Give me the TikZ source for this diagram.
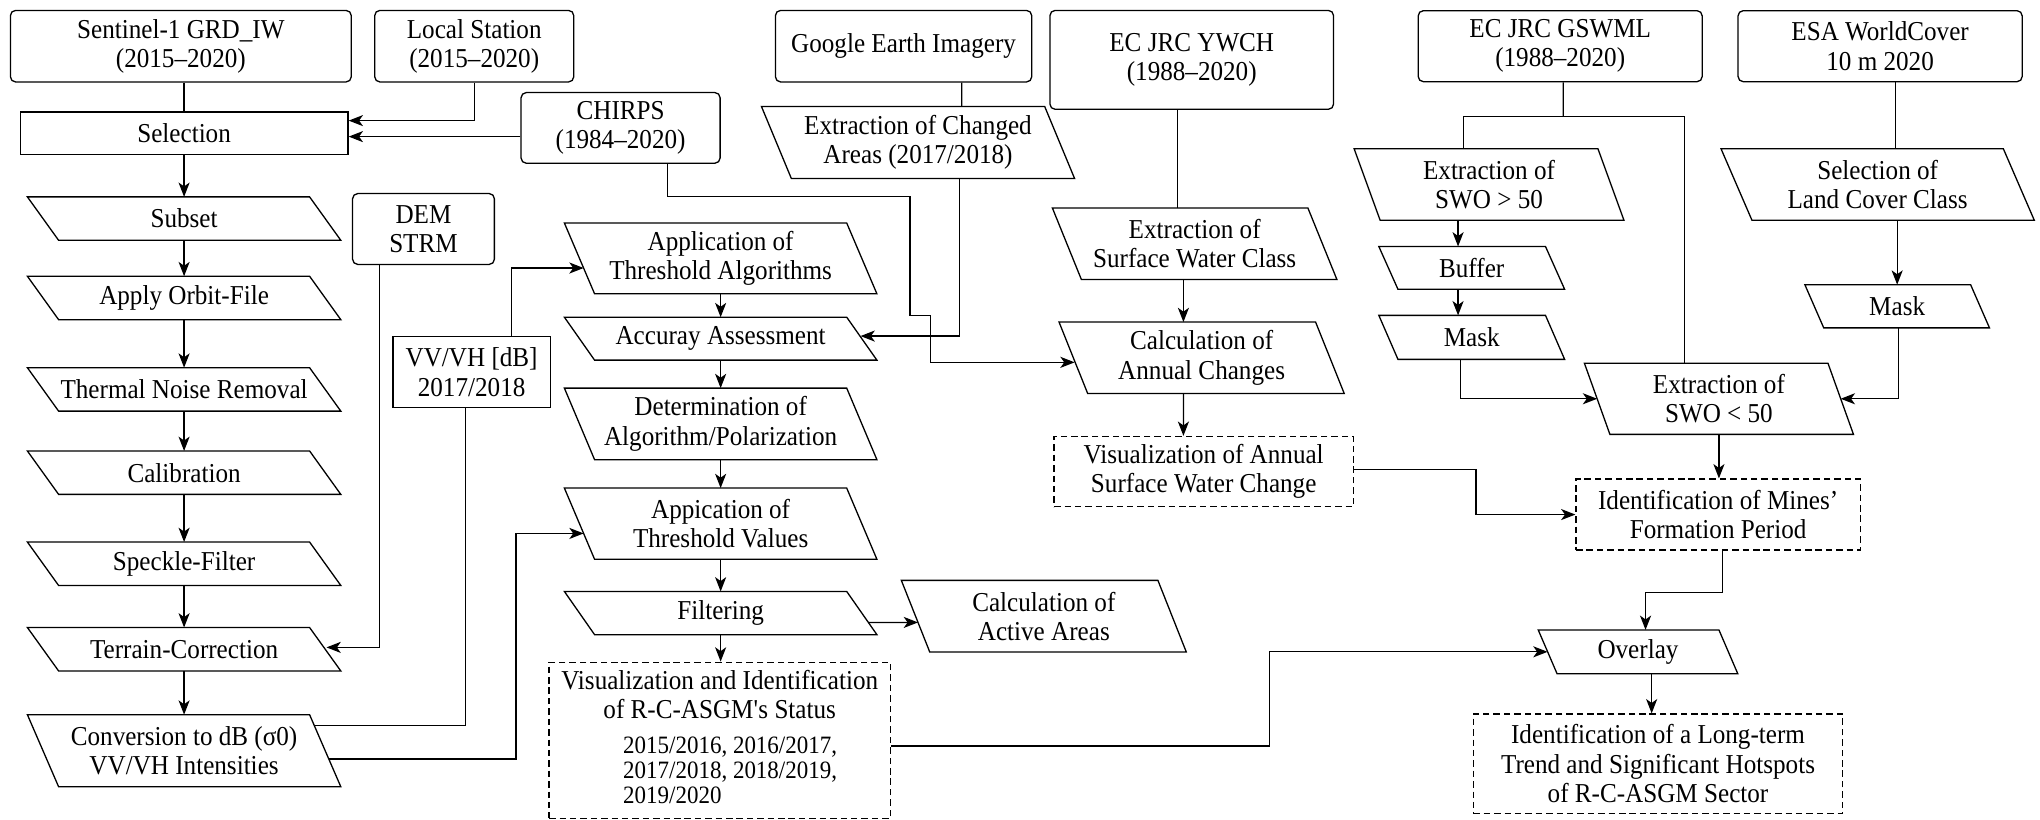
\documentclass[tikz,border=0pt]{standalone}
\usepackage{fontspec}
\setmainfont{Liberation Serif}[FakeStretch=0.92]
\usetikzlibrary{arrows.meta,calc}
\newcommand\dfont{\fontsize{21}{22.5}\selectfont}
\newcommand\yfont{\fontsize{19.2}{19.2}\selectfont}
\begin{document}
\begin{tikzpicture}[x=1pt,y=-1pt,
  every node/.style={font=\dfont, align=center, inner sep=0pt},
  sz/.style 2 args={minimum width=#1pt, minimum height=#2pt},
  rbox/.style={draw, rounded corners=4pt, line width=1pt},
  sbox/.style={draw, line width=1pt},
  dbox/.style={draw, dash pattern=on 5pt off 3pt, line width=1pt},
  pbox/.style={},
  bline/.style={line width=1pt, line join=miter},
  line/.style={line width=1pt},
  arr/.style={line width=1pt, -{Stealth[length=11pt,width=8.5pt,inset=3pt]}},
]
\fill[white] (0,0) rectangle (1568,630);
\useasboundingbox (0,0) rectangle (1568,630);

% ---------- left column ----------
\node[rbox, sz={262}{55}] (sent) at (139,35.5) {Sentinel-1 GRD\_IW\\(2015–2020)};
\node[rbox, sz={153}{55}] (local) at (364.5,35.5) {Local Station\\(2015–2020)};
\node[sbox, sz={252}{33}] (sel) at (141.5,102.5) {Selection};
\node[pbox, sz={240.5}{33}] (subset) at (141.5,168) {Subset};
\node[pbox, sz={240.5}{33}] (orbit) at (141.5,229) {Apply Orbit-File};
\node[pbox, sz={240.5}{33}] (thermal) at (141.5,299.3) {Thermal Noise Removal};
\node[pbox, sz={240.5}{33}] (calib) at (141.5,363.3) {Calibration};
\node[pbox, sz={240.5}{33}] (speckle) at (141.5,433.3) {Speckle-Filter};
\node[pbox, sz={240.5}{33}] (terrain) at (141.5,499) {Terrain-Correction};
\node[pbox, sz={240.5}{55}] (conv) at (141.5,577) {Conversion to dB (σ0)\\VV/VH Intensities};

\node[rbox, sz={109}{54.5}] (dem) at (325.5,176) {DEM\\STRM};
\node[sbox, sz={121}{54.5}] (vvvh) at (362.5,286) {VV/VH [dB]\\2017/2018};
\node[rbox, sz={153}{54.3}] (chirps) at (477,98.3) {CHIRPS\\(1984–2020)};

% ---------- middle ----------
\node[rbox, sz={197}{55}] (google) at (694.5,35.5) {Google Earth Imagery};
\node[pbox, sz={240.3}{55}] (extchg) at (705.6,109.5) {Extraction of Changed\\Areas (2017/2018)};
\node[pbox, sz={239.8}{54}] (appalg) at (553.9,198.6) {Application of\\Threshold Algorithms};
\node[pbox, sz={239.8}{32.6}] (acc) at (553.9,260.3) {Accuray Assessment};
\node[pbox, sz={239.8}{54.6}] (det) at (553.9,325.8) {Determination of\\Algorithm/Polarization};
\node[pbox, sz={239.8}{54.3}] (appval) at (553.9,402.5) {Appication of\\Threshold Values};
\node[pbox, sz={239.8}{32.8}] (filt) at (553.9,471.2) {Filtering};
\node[pbox, sz={218.6}{54.6}] (actv) at (802.3,473.6) {Calculation of\\Active Areas};
\node[dbox, sz={262.3}{120}] (visid) at (553.2,569) {Visualization and Identification\\of R-C-ASGM\textquotesingle s Status\\[4pt]\hspace*{16pt}{\yfont\begin{tabular}[t]{@{}l@{}}2015/2016, 2016/2017,\\2017/2018, 2018/2019,\\2019/2020\end{tabular}}};

\node[rbox, sz={218}{76}] (ywch) at (916,46) {EC JRC YWCH\\(1988–2020)};
\node[pbox, sz={218.3}{54.6}] (extsw) at (918.25,187.4) {Extraction of\\Surface Water Class};
\node[pbox, sz={218.8}{54.5}] (calcann) at (923.6,275) {Calculation of\\Annual Changes};
\node[dbox, sz={230}{54}] (visann) at (925.2,362.5) {Visualization of Annual\\Surface Water Change};

% ---------- right ----------
\node[rbox, sz={218.3}{54.6}] (gswml) at (1199.2,35.5) {EC JRC GSWML\\(1988–2020)};
\node[rbox, sz={218.4}{54.6}] (esa) at (1445.1,35.5) {ESA WorldCover\\10 m 2020};
\node[pbox, sz={207}{54.6}] (swo50g) at (1144.5,141.8) {Extraction of\\SWO > 50};
\node[pbox, sz={142.4}{32.5}] (buffer) at (1131.2,205.9) {Buffer};
\node[pbox, sz={142.4}{33.4}] (mask1) at (1131.2,259.3) {Mask};
\node[pbox, sz={240.4}{54.6}] (landcov) at (1443.2,141.8) {Selection of\\Land Cover Class};
\node[pbox, sz={141.5}{32.8}] (mask2) at (1458.2,235.4) {Mask};
\node[pbox, sz={206.4}{54.3}] (swo50l) at (1321.2,306.5) {Extraction of\\SWO < 50};
\node[dbox, sz={218.4}{54.6}] (mines) at (1320.6,395.5) {Identification of Mines’\\Formation Period};
\node[pbox, sz={153}{33.3}] (overlay) at (1259,501) {Overlay};
\node[dbox, sz={284}{76.4}] (longterm) at (1274.4,587) {Identification of a Long-term\\Trend and Significant Hotspots\\of R-C-ASGM Sector};

% ---------- parallelogram outlines ----------
\foreach \pn/\pw in {subset/24,orbit/24,thermal/24,calib/24,speckle/24,terrain/24,conv/24,
  appalg/23.2,acc/23.2,det/23.2,appval/23.2,filt/23.2,actv/21.8,extchg/23,extsw/22.3,
  calcann/22,swo50g/20,buffer/14.7,mask1/14.7,landcov/23.8,mask2/14.5,swo50l/19.6,overlay/14.5}
  \draw[bline] (\pn.north west) -- ([xshift=-\pw]\pn.north east) -- (\pn.south east)
     -- ([xshift=\pw]\pn.south west) -- cycle;

% ---------- connectors: left ----------
\draw[line] (sent.south -| sel.north) -- (sel.north);
\draw[arr] (local.south) |- ([yshift=9.8pt]sel.east);
\draw[arr] ([yshift=-6.7pt]chirps.west) -- ([yshift=-2.5pt]sel.east);
\draw[arr] (sel.south) -- (sel.south |- subset.north);
\draw[arr] (subset.south) -- (subset.south |- orbit.north);
\draw[arr] (orbit.south) -- (orbit.south |- thermal.north);
\draw[arr] (thermal.south) -- (thermal.south |- calib.north);
\draw[arr] (calib.south) -- (calib.south |- speckle.north);
\draw[arr] (speckle.south) -- (speckle.south |- terrain.north);
\draw[arr] (terrain.south) -- (terrain.south |- conv.north);
\draw[arr] ([xshift=-33.8pt]dem.south) |- ([xshift=-11pt,yshift=1.4pt]terrain.east);
\draw[line] ([xshift=-20.5pt,yshift=19.2pt]conv.east) -| ([xshift=-4.5pt]vvvh.south);
\draw[arr] ([xshift=30.5pt]vvvh.north) |- ([xshift=14.8pt,yshift=-7.4pt]appalg.west);
\coordinate (w6) at (396.7,583.4);
\draw[arr] ([xshift=-9.3pt,yshift=-6.4pt]conv.east) -- (w6) |- ([xshift=14.8pt,yshift=-7.5pt]appval.west);

% ---------- connectors: middle ----------
\coordinate (w1) at (699.5,151.2);
\coordinate (w2) at (715.3,242.6);
\draw[arr] ([xshift=36pt]chirps.south) |- (w1) |- (w2) |- ([xshift=12pt,yshift=-3.5pt]calcann.west);
\draw[line] ([xshift=44.7pt]google.south) -- ([xshift=33.6pt]extchg.north);
\draw[arr] ([xshift=31.8pt]extchg.south) |- ([xshift=-12.6pt,yshift=2pt]acc.east);
\draw[arr] (appalg.south) -- (appalg.south |- acc.north);
\draw[arr] (acc.south) -- (acc.south |- det.north);
\draw[arr] (det.south) -- (det.south |- appval.north);
\draw[arr] (appval.south) -- (appval.south |- filt.north);
\draw[arr] (filt.south) -- (filt.south |- visid.north);
\draw[arr] ([xshift=-6.5pt,yshift=-7.2pt]filt.east) -- ([xshift=12.8pt,yshift=-4.8pt]actv.west);
\draw[line] ([xshift=-10.8pt]ywch.south) -- ([xshift=-13.05pt]extsw.north);
\draw[arr] ([xshift=-8.65pt]extsw.south) -- ([xshift=-14pt]calcann.north);
\draw[arr] ([xshift=-14pt]calcann.south) -- ([xshift=-15.6pt]visann.north);

% ---------- connectors: right ----------
\coordinate (w3) at (1134.5,360.7);
\draw[arr] ([yshift=1.8pt]visann.east) -- (w3) |- (mines.west);
\coordinate (j1) at (1201.6,89.7);
\draw[line] ([xshift=2.4pt]gswml.south) -- (j1);
\draw[line] ([xshift=-19.4pt]swo50g.north) |- (j1) -| ([xshift=-26.3pt]swo50l.north);
\draw[arr] ([xshift=-23.8pt]swo50g.south) -- ([xshift=-10.5pt]buffer.north);
\draw[arr] ([xshift=-10.5pt]buffer.south) -- ([xshift=-10.5pt]mask1.north);
\draw[arr] ([xshift=-8.7pt]mask1.south) |- ([xshift=9.8pt]swo50l.west);
\draw[line] ([xshift=11.9pt]esa.south) -- ([xshift=13.8pt]landcov.north);
\draw[arr] (landcov.south -| mask2.north) -- (mask2.north);
\draw[arr] ([xshift=0.8pt]mask2.south) |- ([xshift=-9.8pt]swo50l.east);
\draw[arr] (swo50l.south) -- (swo50l.south |- mines.north);
\coordinate (w4) at (1264.8,455.3);
\draw[arr] ([xshift=3.4pt]mines.south) |- (w4) -- ([xshift=5.8pt]overlay.north);
\coordinate (w5) at (975.7,573.4);
\draw[arr] ([yshift=-4.4pt]visid.east) -- (w5) |- ([xshift=7.2pt]overlay.west);
\draw[arr] ([xshift=10.5pt]overlay.south) -- ([xshift=-4.9pt]longterm.north);
\end{tikzpicture}
\end{document}
